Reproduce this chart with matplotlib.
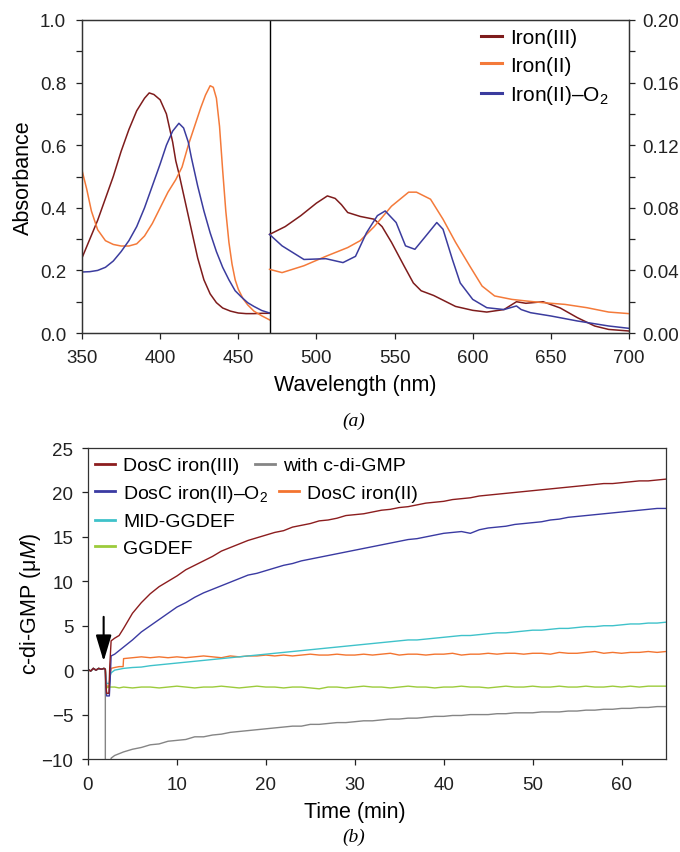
import matplotlib
matplotlib.use("Agg")
import matplotlib.pyplot as plt
from matplotlib.ticker import MultipleLocator

plt.rcParams['font.family'] = ['Liberation Sans', 'DejaVu Sans']
plt.rcParams['mathtext.fontset'] = 'custom'
plt.rcParams['mathtext.rm'] = 'Liberation Sans'
plt.rcParams['mathtext.it'] = 'Liberation Sans:italic'

# ---------------- panel (a): absorption spectra ----------------
# Soret region (left axis, 350-470 nm)
wl_fe3_s = [350, 357.5, 360, 365, 370, 375, 380, 385, 390, 393, 396, 400, 404, 408, 410, 412,
            416, 420, 424, 428, 432, 436, 440, 445, 450, 455, 460, 465, 470]
abs_fe3_s = [0.24, 0.33, 0.36, 0.43, 0.50, 0.58, 0.65, 0.71, 0.75, 0.767, 0.762, 0.745, 0.70, 0.61, 0.55, 0.51,
             0.42, 0.33, 0.24, 0.17, 0.125, 0.097, 0.08, 0.07, 0.064, 0.062, 0.062, 0.063, 0.063]

wl_fe2_s = [350, 353, 356, 360, 365, 370, 375, 380, 385, 390, 395, 400, 405, 410, 414, 418, 422,
            426, 429, 432, 434, 436, 438, 440, 442, 444, 446, 448, 450, 453, 456, 460, 465, 470]
abs_fe2_s = [0.52, 0.46, 0.39, 0.33, 0.295, 0.283, 0.278, 0.278, 0.285, 0.31, 0.35, 0.40, 0.45, 0.49, 0.53, 0.60, 0.66,
             0.72, 0.76, 0.79, 0.785, 0.75, 0.66, 0.52, 0.39, 0.29, 0.22, 0.17, 0.14, 0.11, 0.09, 0.07, 0.055, 0.042]

wl_o2_s = [350, 355, 360, 365, 370, 375, 380, 385, 390, 395, 400, 404, 408, 412, 415, 418, 420,
           424, 428, 432, 436, 440, 444, 448, 452, 456, 460, 465, 470]
abs_o2_s = [0.195, 0.196, 0.20, 0.21, 0.23, 0.26, 0.295, 0.34, 0.40, 0.47, 0.54, 0.60, 0.645, 0.67, 0.655, 0.61, 0.56,
            0.47, 0.39, 0.32, 0.26, 0.21, 0.17, 0.135, 0.115, 0.097, 0.085, 0.072, 0.064]

# Q-band region (right axis, 470-700 nm)
wl_fe3_q = [470, 480, 490, 500, 507, 512, 516, 520, 528, 537, 542, 548, 556, 562, 567, 575, 589,
            600, 609, 620, 628, 634, 645, 656, 667, 678, 687, 700]
abs_fe3_q = [0.063, 0.068, 0.075, 0.083, 0.0876, 0.086, 0.082, 0.077, 0.0745, 0.0727, 0.068, 0.058, 0.043, 0.032,
             0.027, 0.024, 0.017, 0.0145, 0.0134, 0.015, 0.020, 0.019, 0.020, 0.016, 0.0098, 0.0045, 0.0023, 0.0013]

wl_fe2_q = [470, 478, 492, 506, 520, 528, 537, 548, 559, 564, 573, 581, 589, 598, 606, 614, 625,
            634, 645, 659, 673, 687, 700]
abs_fe2_q = [0.0407, 0.0386, 0.043, 0.049, 0.0546, 0.059, 0.068, 0.081, 0.090, 0.090, 0.0855, 0.0727, 0.058,
             0.043, 0.030, 0.0237, 0.0215, 0.0205, 0.0194, 0.0183, 0.0162, 0.0134, 0.0124]

wl_o2_q = [470, 478, 492, 506, 517, 525, 532, 539, 544, 551, 557, 563, 570, 577, 581, 587, 592,
           600, 609, 620, 628, 631, 637, 650, 667, 687, 700]
abs_o2_q = [0.063, 0.0557, 0.047, 0.0475, 0.045, 0.049, 0.064, 0.075, 0.078, 0.0706, 0.0557, 0.0535, 0.062,
            0.0706, 0.0663, 0.047, 0.032, 0.0215, 0.0162, 0.015, 0.0173, 0.015, 0.013, 0.0109, 0.0077, 0.0045, 0.003]

spec_labels = ['Iron(III)', 'Iron(II)', 'Iron(II)\u2013O$_2$']
spec_colors = ['#7E1C1C', '#F47A3A', '#3B3C9E']

# ---------------- panel (b): c-di-GMP time course ----------------
t_pre = [0, 0.3, 0.6, 0.9, 1.2, 1.5, 1.8, 1.95]
y_pre = [0.1, -0.1, 0.2, 0.0, 0.2, 0.1, 0.2, 0.1]
t_min = list(range(4, 66))

t_fe3 = [2.0, 2.1, 2.35, 2.45, 2.6, 3.0, 3.5]
y_fe3 = [-1.5, -2.6, -2.6, 0.5, 3.3, 3.6, 3.9]
y_fe3_tail = [4.7, 6.4, 7.6, 8.6, 9.4, 10.0, 10.6, 11.3, 11.8, 12.3,
              12.8, 13.4, 13.8, 14.2, 14.6, 14.9, 15.2, 15.5, 15.7, 16.1,
              16.3, 16.5, 16.8, 16.9, 17.1, 17.4, 17.5, 17.6, 17.8, 18.0,
              18.1, 18.3, 18.4, 18.6, 18.8, 18.9, 19.0, 19.2, 19.3, 19.4,
              19.6, 19.7, 19.8, 19.9, 20.0, 20.1, 20.2, 20.3, 20.4, 20.5,
              20.6, 20.7, 20.8, 20.9, 21.0, 21.0, 21.1, 21.2, 21.3, 21.3,
              21.4, 21.5]

t_o2 = [2.0, 2.1, 2.4, 2.5, 2.6, 3.0, 3.5]
y_o2 = [-1.5, -2.9, -2.9, -1.0, 1.6, 1.8, 2.2]
y_o2_tail = [2.6, 3.4, 4.3, 5.0, 5.7, 6.4, 7.1, 7.6, 8.2, 8.7,
             9.1, 9.5, 9.9, 10.3, 10.7, 10.9, 11.2, 11.5, 11.8, 12.0,
             12.3, 12.5, 12.7, 12.9, 13.1, 13.3, 13.5, 13.7, 13.9, 14.1,
             14.3, 14.5, 14.7, 14.8, 15.0, 15.2, 15.4, 15.5, 15.6, 15.4,
             15.8, 16.0, 16.1, 16.2, 16.4, 16.5, 16.6, 16.7, 16.9, 17.0,
             17.2, 17.3, 17.4, 17.5, 17.6, 17.7, 17.8, 17.9, 18.0, 18.1,
             18.2, 18.2]

t_fe2 = [2.0, 2.1, 2.4, 2.5, 2.6, 3.0, 3.5, 3.95]
y_fe2 = [-0.5, -1.8, -1.8, -0.5, 0.2, 0.3, 0.4, 0.4]
y_fe2_tail = [1.3, 1.4, 1.5, 1.4, 1.5, 1.4, 1.5, 1.4, 1.5, 1.6,
              1.5, 1.4, 1.6, 1.5, 1.6, 1.6, 1.7, 1.6, 1.7, 1.6,
              1.7, 1.8, 1.7, 1.7, 1.8, 1.7, 1.7, 1.8, 1.7, 1.8,
              1.9, 1.7, 1.8, 1.8, 1.7, 1.8, 1.8, 1.9, 1.7, 1.8,
              1.8, 1.9, 1.8, 1.9, 1.9, 1.8, 1.9, 1.9, 1.8, 2.0,
              1.9, 1.9, 2.0, 2.1, 1.9, 2.0, 1.9, 2.0, 2.0, 2.1,
              2.0, 2.1]

t_mid = [2.0, 2.1, 2.4, 2.5, 2.6, 3.0, 3.5]
y_mid = [-0.5, -1.5, -1.5, -0.6, -0.3, 0.0, 0.1]
y_mid_tail = [0.2, 0.3, 0.35, 0.5, 0.6, 0.7, 0.8, 0.9, 1.0, 1.1,
              1.2, 1.3, 1.4, 1.5, 1.6, 1.7, 1.8, 1.9, 2.0, 2.1,
              2.2, 2.3, 2.4, 2.5, 2.6, 2.7, 2.8, 2.9, 3.0, 3.1,
              3.2, 3.3, 3.4, 3.4, 3.5, 3.6, 3.7, 3.8, 3.9, 3.9,
              4.0, 4.1, 4.2, 4.2, 4.3, 4.4, 4.5, 4.5, 4.6, 4.7,
              4.7, 4.8, 4.9, 4.9, 5.0, 5.0, 5.1, 5.2, 5.2, 5.3,
              5.3, 5.4]

t_gg = [2.0, 2.1, 2.3, 3.0, 3.5]
y_gg = [-1.0, -2.0, -1.9, -1.9, -2.0]
y_gg_tail = [-1.9, -2.0, -1.9, -1.9, -2.0, -1.9, -1.8, -1.9, -2.0, -1.9,
             -1.9, -1.8, -1.9, -2.0, -1.9, -1.8, -1.9, -1.9, -2.0, -1.9,
             -1.9, -2.0, -2.1, -1.9, -1.9, -2.0, -1.9, -1.8, -1.9, -1.9,
             -2.0, -1.9, -1.8, -1.9, -1.9, -2.0, -1.9, -1.9, -1.8, -1.9,
             -1.9, -2.0, -1.9, -1.8, -1.9, -1.9, -1.8, -1.9, -1.9, -1.8,
             -1.9, -1.9, -1.8, -1.9, -1.9, -1.8, -1.9, -1.8, -1.9, -1.8,
             -1.8, -1.8]

t_cdg = [1.95, 2.55, 2.6, 3.0, 3.5]
y_cdg = [-14.0, -14.0, -9.9, -9.6, -9.4]
y_cdg_tail = [-9.2, -8.9, -8.7, -8.4, -8.3, -8.0, -7.9, -7.8, -7.5, -7.5,
              -7.3, -7.2, -7.0, -6.9, -6.8, -6.7, -6.6, -6.5, -6.4, -6.3,
              -6.3, -6.1, -6.1, -6.0, -5.9, -5.9, -5.8, -5.7, -5.7, -5.6,
              -5.5, -5.5, -5.4, -5.4, -5.3, -5.2, -5.2, -5.1, -5.1, -5.0,
              -5.0, -5.0, -4.9, -4.9, -4.8, -4.8, -4.8, -4.7, -4.7, -4.7,
              -4.6, -4.6, -4.5, -4.5, -4.4, -4.4, -4.3, -4.3, -4.2, -4.2,
              -4.1, -4.1]

arrow_t = 1.76
arrow_from, arrow_to = 6.0, 1.0

fig = plt.figure(figsize=(6.8, 8.53), dpi=100)

# ---- top panel ----
ax = fig.add_axes([0.1206, 0.6084, 0.8044, 0.367])
ax2 = ax.twinx()
soret = [(wl_fe3_s, abs_fe3_s), (wl_fe2_s, abs_fe2_s), (wl_o2_s, abs_o2_s)]
qband = [(wl_fe3_q, abs_fe3_q), (wl_fe2_q, abs_fe2_q), (wl_o2_q, abs_o2_q)]
for (x, y), col in zip(soret, spec_colors):
    ax.plot(x, y, color=col, lw=1.1)
lines = []
for (x, y), col, lab in zip(qband, spec_colors, spec_labels):
    l, = ax2.plot(x, y, color=col, lw=1.1, label=lab)
    lines.append(l)
ax.axvline(470, color='black', lw=1.0)

ax.set_xlim(350, 700)
ax.set_ylim(0, 1.0)
ax2.set_ylim(0, 0.20)
ax.xaxis.set_major_locator(MultipleLocator(50))
ax.yaxis.set_major_locator(MultipleLocator(0.2))
ax.yaxis.set_minor_locator(MultipleLocator(0.1))
ax2.yaxis.set_major_locator(MultipleLocator(0.04))
ax2.yaxis.set_minor_locator(MultipleLocator(0.02))
ax.yaxis.set_major_formatter(matplotlib.ticker.FormatStrFormatter('%.1f'))
ax2.yaxis.set_major_formatter(matplotlib.ticker.FormatStrFormatter('%.2f'))
for a in (ax, ax2):
    a.tick_params(which='both', direction='out', length=4.5, width=0.9, labelsize=13.5,
                  colors='#222222', pad=7)
    for s in a.spines.values():
        s.set_color('#333333')
        s.set_linewidth(0.9)
ax2.tick_params(axis='y', pad=5)
ax.set_ylabel('Absorbance', fontsize=15.5, labelpad=4)
ax.set_xlabel('Wavelength (nm)', fontsize=15.5, labelpad=6)

leg = ax2.legend(handles=lines, loc='upper left', bbox_to_anchor=(0.729, 0.975), frameon=False,
                 fontsize=15, handlelength=1.0, handletextpad=0.4, labelspacing=0.42,
                 borderpad=0, borderaxespad=0)
for h in leg.legend_handles:
    h.set_linewidth(2.2)

fig.text(0.52, 0.5056, '(a)', fontsize=14, family='Liberation Serif', style='italic',
         ha='center', va='center')

# ---- bottom panel ----
bx = fig.add_axes([0.1294, 0.1090, 0.8500, 0.3646])
series = [
    ('DosC iron(III)', '#8C1D1E', t_fe3, y_fe3, y_fe3_tail),
    ('DosC iron(II)\u2013O$_2$', '#3A3AA2', t_o2, y_o2, y_o2_tail),
    ('MID-GGDEF', '#3FC2CA', t_mid, y_mid, y_mid_tail),
    ('GGDEF', '#9CCB3B', t_gg, y_gg, y_gg_tail),
    ('with c-di-GMP', '#858585', t_cdg, y_cdg, y_cdg_tail),
    ('DosC iron(II)', '#F37430', t_fe2, y_fe2, y_fe2_tail),
]
handles = {}
for lab, col, tt, yy, tail in reversed(series):
    t_all = t_pre + tt + t_min
    y_all = y_pre + yy + tail
    l, = bx.plot(t_all, y_all, color=col, lw=1.0, label=lab)
    handles[lab] = l

bx.annotate('', xy=(arrow_t, arrow_to), xytext=(arrow_t, arrow_from),
            arrowprops=dict(arrowstyle='-|>,head_width=0.3,head_length=1.0', color='black',
                            lw=1.5, mutation_scale=16, shrinkA=0, shrinkB=0))

bx.set_xlim(0, 65)
bx.set_ylim(-10, 25)
bx.xaxis.set_major_locator(MultipleLocator(10))
bx.yaxis.set_major_locator(MultipleLocator(5))
bx.tick_params(direction='out', length=4.5, width=0.9, labelsize=13.5, colors='#222222', pad=6)
bx.tick_params(axis='x', pad=8)
for s in bx.spines.values():
    s.set_color('#333333')
    s.set_linewidth(0.9)
bx.set_xlabel('Time (min)', fontsize=15.5)
bx.xaxis.set_label_coords(0.462, -0.135)
bx.set_ylabel('c-di-GMP (\u03bc$\\mathit{M}$)', fontsize=15.5, labelpad=-1)

leg_kw = dict(loc='upper left', frameon=False, fontsize=14, handlelength=1.03, handletextpad=0.41,
              labelspacing=0.45, borderpad=0, borderaxespad=0)
col1 = [handles[s[0]] for s in series[:4]]
l1 = bx.legend(handles=col1, bbox_to_anchor=(0.0121, 0.972), **leg_kw)
l2 = bx.legend(handles=[handles['with c-di-GMP']], bbox_to_anchor=(0.289, 0.972), **leg_kw)
l3 = bx.legend(handles=[handles['DosC iron(II)']], bbox_to_anchor=(0.330, 0.883), **leg_kw)
for lg in (l1, l2, l3):
    for h in lg.legend_handles:
        h.set_linewidth(2.0)
bx.add_artist(l1)
bx.add_artist(l2)

fig.text(0.52, 0.0188, '(b)', fontsize=14, family='Liberation Serif', style='italic',
         ha='center', va='center')

fig.savefig('out.png', dpi=100)
